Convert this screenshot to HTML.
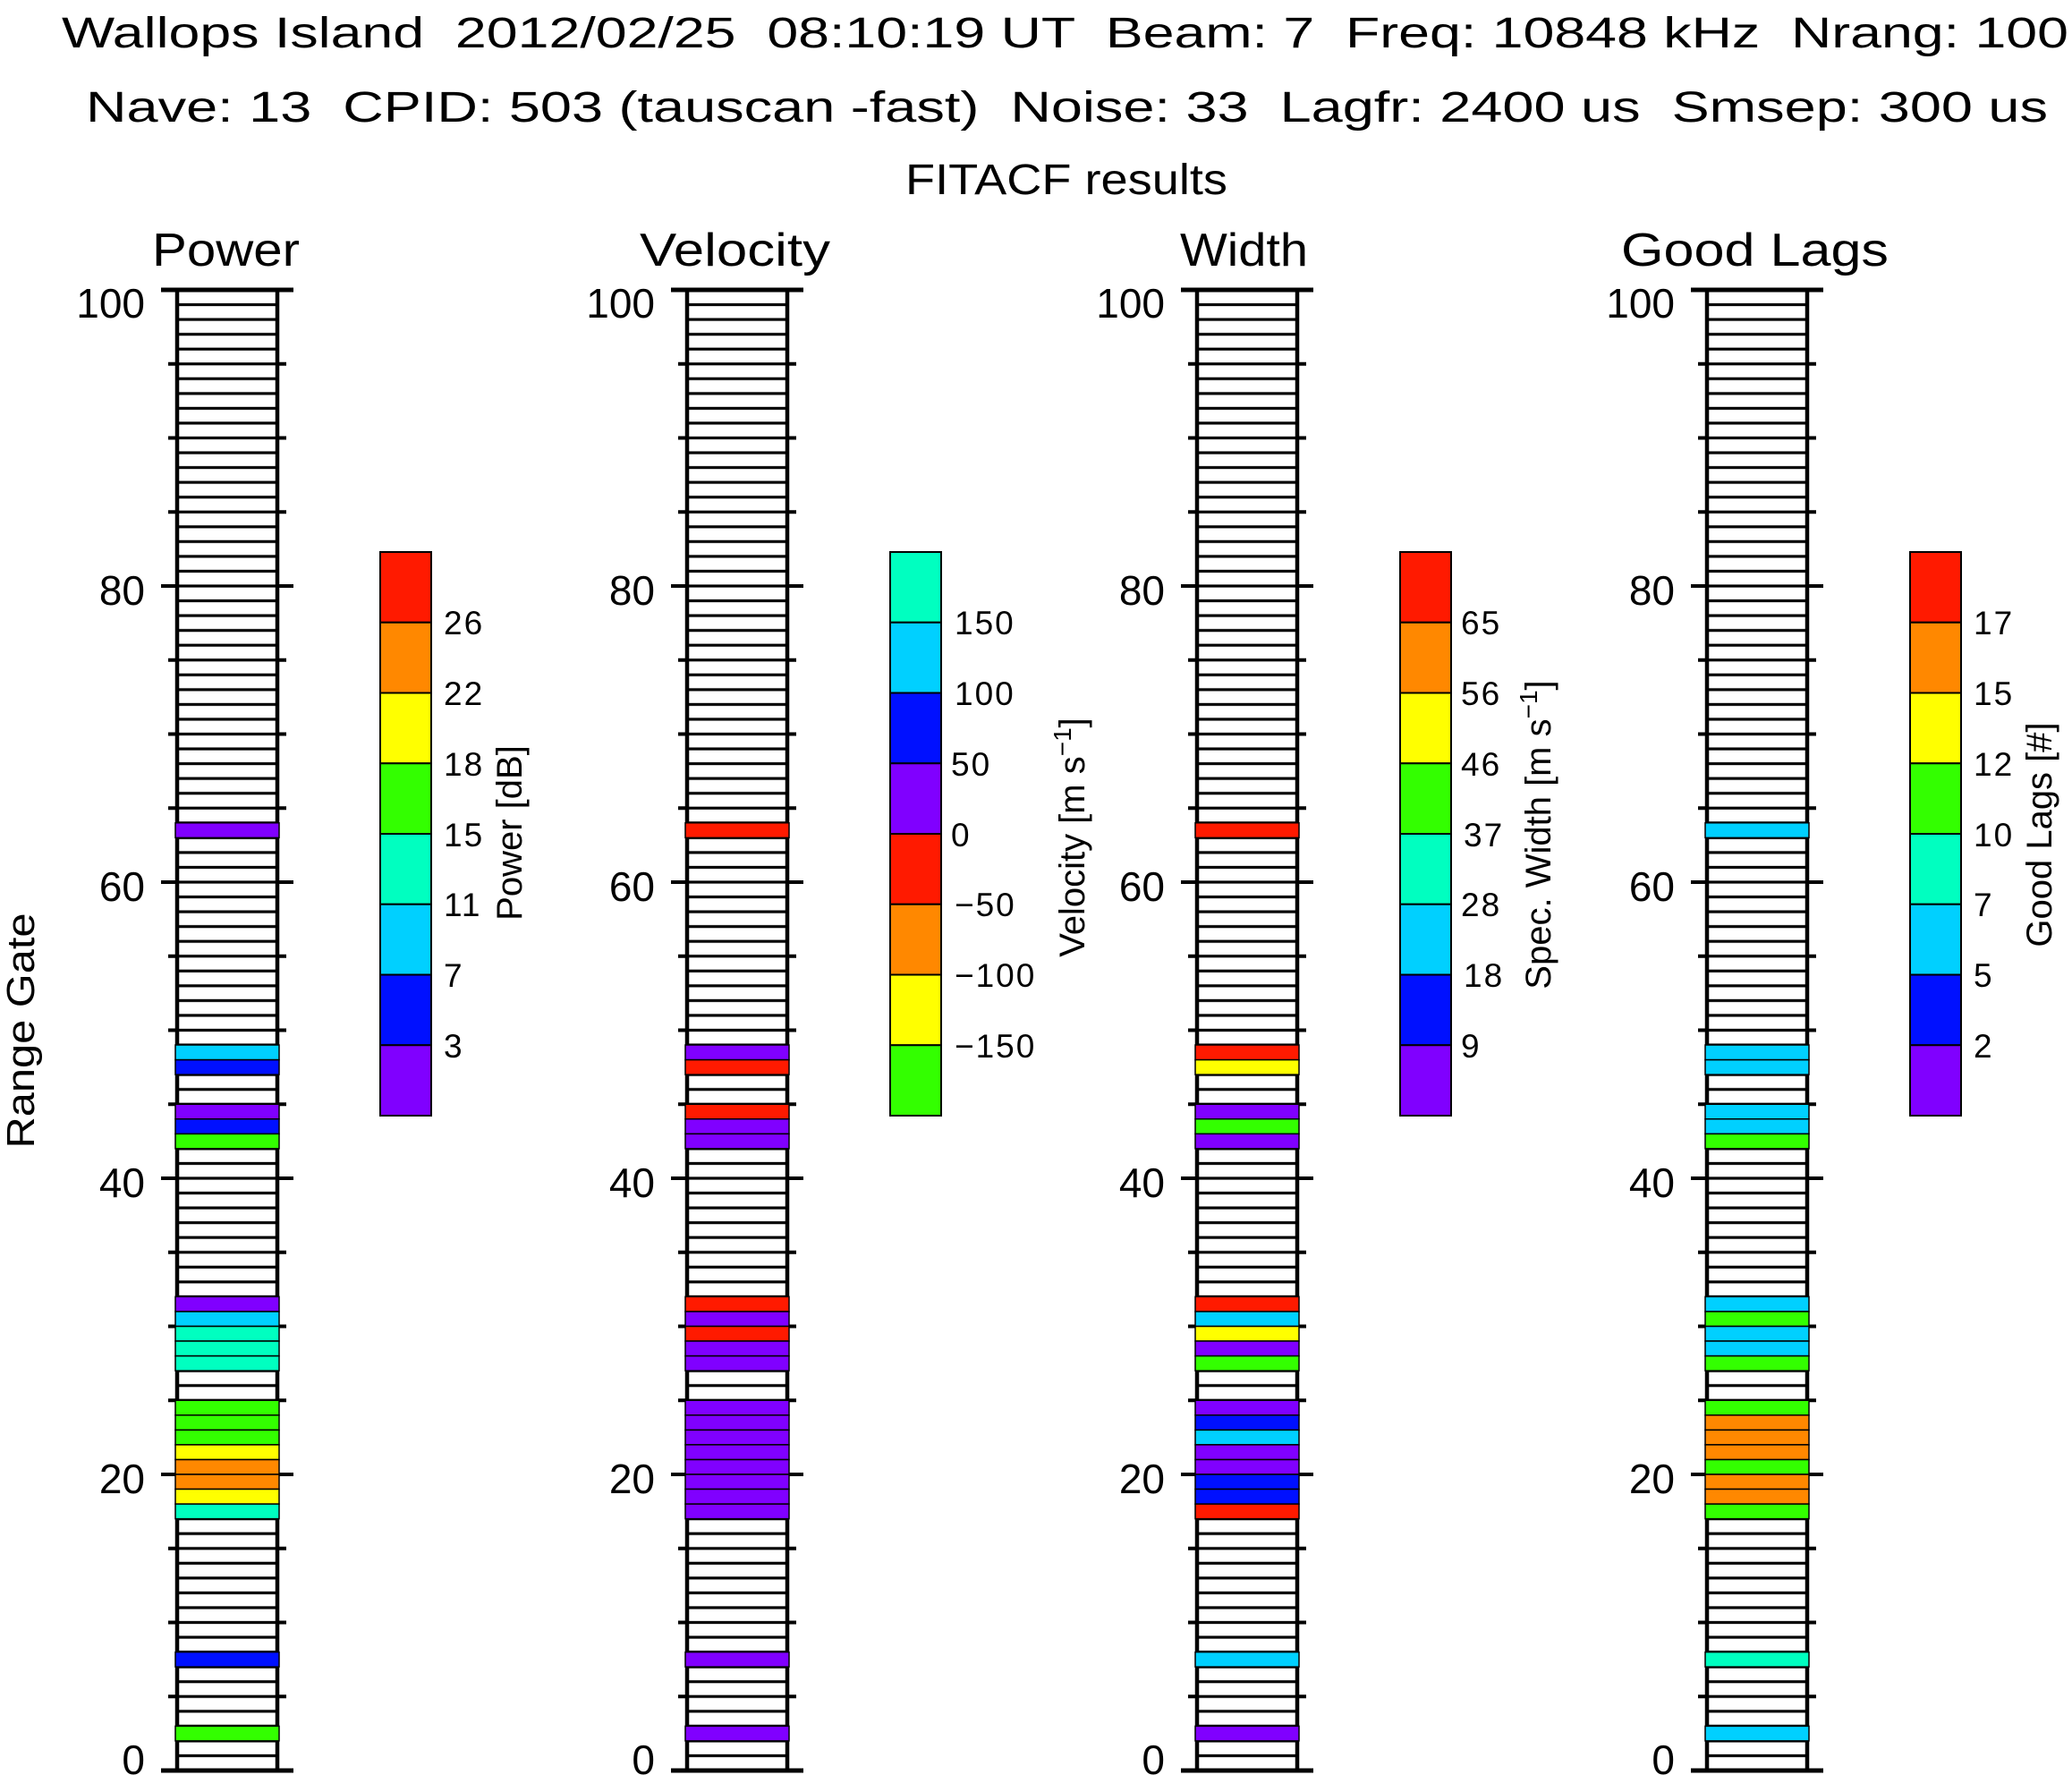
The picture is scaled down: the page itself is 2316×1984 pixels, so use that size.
<!DOCTYPE html>
<html><head><meta charset="utf-8"><style>
html,body{margin:0;padding:0;background:#fff}
svg{display:block}
text{font-family:"Liberation Sans",sans-serif;fill:#000;white-space:pre}
.r{fill:#ff1a00}.o{fill:#ff8800}.y{fill:#ffff00}.g{fill:#33ff00}.t{fill:#00ffc0}.c{fill:#00d0ff}.b{fill:#0010ff}.p{fill:#8000ff}
.cell rect{stroke:#000;stroke-width:1.5px;vector-effect:non-scaling-stroke}
.cb rect{stroke:#000;stroke-width:2}
.tl{font-size:46px;text-anchor:end}
.cl{font-size:37px;letter-spacing:2px}
</style></head><body>
<svg width="2316" height="1984" viewBox="0 0 2316 1984" xmlns="http://www.w3.org/2000/svg">
<defs>
<pattern id="gl" patternUnits="userSpaceOnUse" x="0" y="1979" width="2316" height="16.55">
<rect x="0" y="0" width="2316" height="1.6" fill="#000"/>
<rect x="0" y="14.95" width="2316" height="1.6" fill="#000"/>
</pattern>
<g id="ax">
<rect x="0" y="324" width="116" height="1655" fill="url(#gl)"/>
<g transform="translate(0,1979) scale(1,-16.55)" fill="none" stroke="#000">
<path vector-effect="non-scaling-stroke" stroke-width="4" d="M-16 20H0M116 20H132M-16 40H0M116 40H132M-16 60H0M116 60H132M-16 80H0M116 80H132"/>
<path vector-effect="non-scaling-stroke" stroke-width="4" d="M-8 5H0M116 5H124M-8 10H0M116 10H124M-8 15H0M116 15H124M-8 25H0M116 25H124M-8 30H0M116 30H124M-8 35H0M116 35H124M-8 45H0M116 45H124M-8 50H0M116 50H124M-8 55H0M116 55H124M-8 65H0M116 65H124M-8 70H0M116 70H124M-8 75H0M116 75H124M-8 85H0M116 85H124M-8 90H0M116 90H124M-8 95H0M116 95H124"/>
</g>
<path d="M2 324V1979M114 324V1979" stroke="#000" stroke-width="4.5" fill="none"/>
<path d="M-16 324H132M-16 1979H132" stroke="#000" stroke-width="5" fill="none"/>
<text class="tl" x="-34" y="355">100</text>
<text class="tl" x="-34" y="676">80</text>
<text class="tl" x="-34" y="1007">60</text>
<text class="tl" x="-34" y="1338">40</text>
<text class="tl" x="-34" y="1669">20</text>
<text class="tl" x="-34" y="1983">0</text>
</g>
</defs>

<text x="69" y="53" font-size="48" textLength="2243" lengthAdjust="spacingAndGlyphs">Wallops Island  2012/02/25  08:10:19 UT  Beam: 7  Freq: 10848 kHz  Nrang: 100</text>
<text x="96" y="136" font-size="48" textLength="2193" lengthAdjust="spacingAndGlyphs">Nave: 13  CPID: 503 (tauscan -fast)  Noise: 33  Lagfr: 2400 us  Smsep: 300 us</text>
<text x="1012" y="217" font-size="48" textLength="360" lengthAdjust="spacingAndGlyphs">FITACF results</text>

<text x="170" y="297" font-size="52" textLength="165" lengthAdjust="spacingAndGlyphs">Power</text>
<text x="715" y="297" font-size="52" textLength="213" lengthAdjust="spacingAndGlyphs">Velocity</text>
<text x="1319" y="297" font-size="52" textLength="143" lengthAdjust="spacingAndGlyphs">Width</text>
<text x="1812" y="297" font-size="52" textLength="299" lengthAdjust="spacingAndGlyphs">Good Lags</text>

<text transform="translate(38,1152) rotate(-90)" font-size="44" text-anchor="middle" textLength="263" lengthAdjust="spacingAndGlyphs">Range Gate</text>

<use href="#ax" x="196"/>
<use href="#ax" x="766"/>
<use href="#ax" x="1336"/>
<use href="#ax" x="1906"/>

<!-- Power cells -->
<g class="cell" transform="translate(196,1979) scale(1,-16.55)">
<rect class="p" x="0" y="63" width="116" height="1"/>
<rect class="c" x="0" y="48" width="116" height="1"/>
<rect class="b" x="0" y="47" width="116" height="1"/>
<rect class="p" x="0" y="44" width="116" height="1"/>
<rect class="b" x="0" y="43" width="116" height="1"/>
<rect class="g" x="0" y="42" width="116" height="1"/>
<rect class="p" x="0" y="31" width="116" height="1"/>
<rect class="c" x="0" y="30" width="116" height="1"/>
<rect class="t" x="0" y="29" width="116" height="1"/>
<rect class="t" x="0" y="28" width="116" height="1"/>
<rect class="t" x="0" y="27" width="116" height="1"/>
<rect class="g" x="0" y="24" width="116" height="1"/>
<rect class="g" x="0" y="23" width="116" height="1"/>
<rect class="g" x="0" y="22" width="116" height="1"/>
<rect class="y" x="0" y="21" width="116" height="1"/>
<rect class="o" x="0" y="20" width="116" height="1"/>
<rect class="o" x="0" y="19" width="116" height="1"/>
<rect class="y" x="0" y="18" width="116" height="1"/>
<rect class="t" x="0" y="17" width="116" height="1"/>
<rect class="b" x="0" y="7" width="116" height="1"/>
<rect class="g" x="0" y="2" width="116" height="1"/>
</g>
<!-- Velocity cells -->
<g class="cell" transform="translate(766,1979) scale(1,-16.55)">
<rect class="r" x="0" y="63" width="116" height="1"/>
<rect class="p" x="0" y="48" width="116" height="1"/>
<rect class="r" x="0" y="47" width="116" height="1"/>
<rect class="r" x="0" y="44" width="116" height="1"/>
<rect class="p" x="0" y="43" width="116" height="1"/>
<rect class="p" x="0" y="42" width="116" height="1"/>
<rect class="r" x="0" y="31" width="116" height="1"/>
<rect class="p" x="0" y="30" width="116" height="1"/>
<rect class="r" x="0" y="29" width="116" height="1"/>
<rect class="p" x="0" y="28" width="116" height="1"/>
<rect class="p" x="0" y="27" width="116" height="1"/>
<rect class="p" x="0" y="24" width="116" height="1"/>
<rect class="p" x="0" y="23" width="116" height="1"/>
<rect class="p" x="0" y="22" width="116" height="1"/>
<rect class="p" x="0" y="21" width="116" height="1"/>
<rect class="p" x="0" y="20" width="116" height="1"/>
<rect class="p" x="0" y="19" width="116" height="1"/>
<rect class="p" x="0" y="18" width="116" height="1"/>
<rect class="p" x="0" y="17" width="116" height="1"/>
<rect class="p" x="0" y="7" width="116" height="1"/>
<rect class="p" x="0" y="2" width="116" height="1"/>
</g>
<!-- Width cells -->
<g class="cell" transform="translate(1336,1979) scale(1,-16.55)">
<rect class="r" x="0" y="63" width="116" height="1"/>
<rect class="r" x="0" y="48" width="116" height="1"/>
<rect class="y" x="0" y="47" width="116" height="1"/>
<rect class="p" x="0" y="44" width="116" height="1"/>
<rect class="g" x="0" y="43" width="116" height="1"/>
<rect class="p" x="0" y="42" width="116" height="1"/>
<rect class="r" x="0" y="31" width="116" height="1"/>
<rect class="c" x="0" y="30" width="116" height="1"/>
<rect class="y" x="0" y="29" width="116" height="1"/>
<rect class="p" x="0" y="28" width="116" height="1"/>
<rect class="g" x="0" y="27" width="116" height="1"/>
<rect class="p" x="0" y="24" width="116" height="1"/>
<rect class="b" x="0" y="23" width="116" height="1"/>
<rect class="c" x="0" y="22" width="116" height="1"/>
<rect class="p" x="0" y="21" width="116" height="1"/>
<rect class="p" x="0" y="20" width="116" height="1"/>
<rect class="b" x="0" y="19" width="116" height="1"/>
<rect class="b" x="0" y="18" width="116" height="1"/>
<rect class="r" x="0" y="17" width="116" height="1"/>
<rect class="c" x="0" y="7" width="116" height="1"/>
<rect class="p" x="0" y="2" width="116" height="1"/>
</g>
<!-- Good lags cells -->
<g class="cell" transform="translate(1906,1979) scale(1,-16.55)">
<rect class="c" x="0" y="63" width="116" height="1"/>
<rect class="c" x="0" y="48" width="116" height="1"/>
<rect class="c" x="0" y="47" width="116" height="1"/>
<rect class="c" x="0" y="44" width="116" height="1"/>
<rect class="c" x="0" y="43" width="116" height="1"/>
<rect class="g" x="0" y="42" width="116" height="1"/>
<rect class="c" x="0" y="31" width="116" height="1"/>
<rect class="g" x="0" y="30" width="116" height="1"/>
<rect class="c" x="0" y="29" width="116" height="1"/>
<rect class="c" x="0" y="28" width="116" height="1"/>
<rect class="g" x="0" y="27" width="116" height="1"/>
<rect class="g" x="0" y="24" width="116" height="1"/>
<rect class="o" x="0" y="23" width="116" height="1"/>
<rect class="o" x="0" y="22" width="116" height="1"/>
<rect class="o" x="0" y="21" width="116" height="1"/>
<rect class="g" x="0" y="20" width="116" height="1"/>
<rect class="o" x="0" y="19" width="116" height="1"/>
<rect class="o" x="0" y="18" width="116" height="1"/>
<rect class="g" x="0" y="17" width="116" height="1"/>
<rect class="t" x="0" y="7" width="116" height="1"/>
<rect class="c" x="0" y="2" width="116" height="1"/>
</g>

<!-- Colorbars -->
<g class="cb">
<rect class="r" x="425" y="617" width="57" height="78.75"/>
<rect class="o" x="425" y="695.75" width="57" height="78.75"/>
<rect class="y" x="425" y="774.5" width="57" height="78.75"/>
<rect class="g" x="425" y="853.25" width="57" height="78.75"/>
<rect class="t" x="425" y="932" width="57" height="78.75"/>
<rect class="c" x="425" y="1010.75" width="57" height="78.75"/>
<rect class="b" x="425" y="1089.5" width="57" height="78.75"/>
<rect class="p" x="425" y="1168.25" width="57" height="78.75"/>

<rect class="t" x="995" y="617" width="57" height="78.75"/>
<rect class="c" x="995" y="695.75" width="57" height="78.75"/>
<rect class="b" x="995" y="774.5" width="57" height="78.75"/>
<rect class="p" x="995" y="853.25" width="57" height="78.75"/>
<rect class="r" x="995" y="932" width="57" height="78.75"/>
<rect class="o" x="995" y="1010.75" width="57" height="78.75"/>
<rect class="y" x="995" y="1089.5" width="57" height="78.75"/>
<rect class="g" x="995" y="1168.25" width="57" height="78.75"/>

<rect class="r" x="1565" y="617" width="57" height="78.75"/>
<rect class="o" x="1565" y="695.75" width="57" height="78.75"/>
<rect class="y" x="1565" y="774.5" width="57" height="78.75"/>
<rect class="g" x="1565" y="853.25" width="57" height="78.75"/>
<rect class="t" x="1565" y="932" width="57" height="78.75"/>
<rect class="c" x="1565" y="1010.75" width="57" height="78.75"/>
<rect class="b" x="1565" y="1089.5" width="57" height="78.75"/>
<rect class="p" x="1565" y="1168.25" width="57" height="78.75"/>

<rect class="r" x="2135" y="617" width="57" height="78.75"/>
<rect class="o" x="2135" y="695.75" width="57" height="78.75"/>
<rect class="y" x="2135" y="774.5" width="57" height="78.75"/>
<rect class="g" x="2135" y="853.25" width="57" height="78.75"/>
<rect class="t" x="2135" y="932" width="57" height="78.75"/>
<rect class="c" x="2135" y="1010.75" width="57" height="78.75"/>
<rect class="b" x="2135" y="1089.5" width="57" height="78.75"/>
<rect class="p" x="2135" y="1168.25" width="57" height="78.75"/>
</g>

<g class="cl">
<text x="496" y="709">26</text><text x="496" y="788">22</text><text x="496" y="867">18</text><text x="496" y="946">15</text><text x="496" y="1024">11</text><text x="496" y="1103">7</text><text x="496" y="1182">3</text>
<text x="1067" y="709">150</text><text x="1067" y="788">100</text><text x="1063" y="867">50</text><text x="1063" y="946">0</text><text x="1067" y="1024">−50</text><text x="1067" y="1103">−100</text><text x="1067" y="1182">−150</text>
<text x="1633" y="709">65</text><text x="1633" y="788">56</text><text x="1633" y="867">46</text><text x="1636" y="946">37</text><text x="1633" y="1024">28</text><text x="1636" y="1103">18</text><text x="1633" y="1182">9</text>
<text x="2206" y="709">17</text><text x="2206" y="788">15</text><text x="2206" y="867">12</text><text x="2206" y="946">10</text><text x="2206" y="1024">7</text><text x="2206" y="1103">5</text><text x="2206" y="1182">2</text>
</g>

<text transform="translate(583,931) rotate(-90)" font-size="40" text-anchor="middle">Power [dB]</text>
<text transform="translate(1212,936) rotate(-90)" font-size="40" text-anchor="middle">Velocity [m s<tspan dy="-15" font-size="28">−1</tspan><tspan dy="15">]</tspan></text>
<text transform="translate(1733,933) rotate(-90)" font-size="40" text-anchor="middle">Spec. Width [m s<tspan dy="-15" font-size="28">−1</tspan><tspan dy="15">]</tspan></text>
<text transform="translate(2293,933) rotate(-90)" font-size="40" text-anchor="middle">Good Lags [#]</text>
</svg>
</body></html>
